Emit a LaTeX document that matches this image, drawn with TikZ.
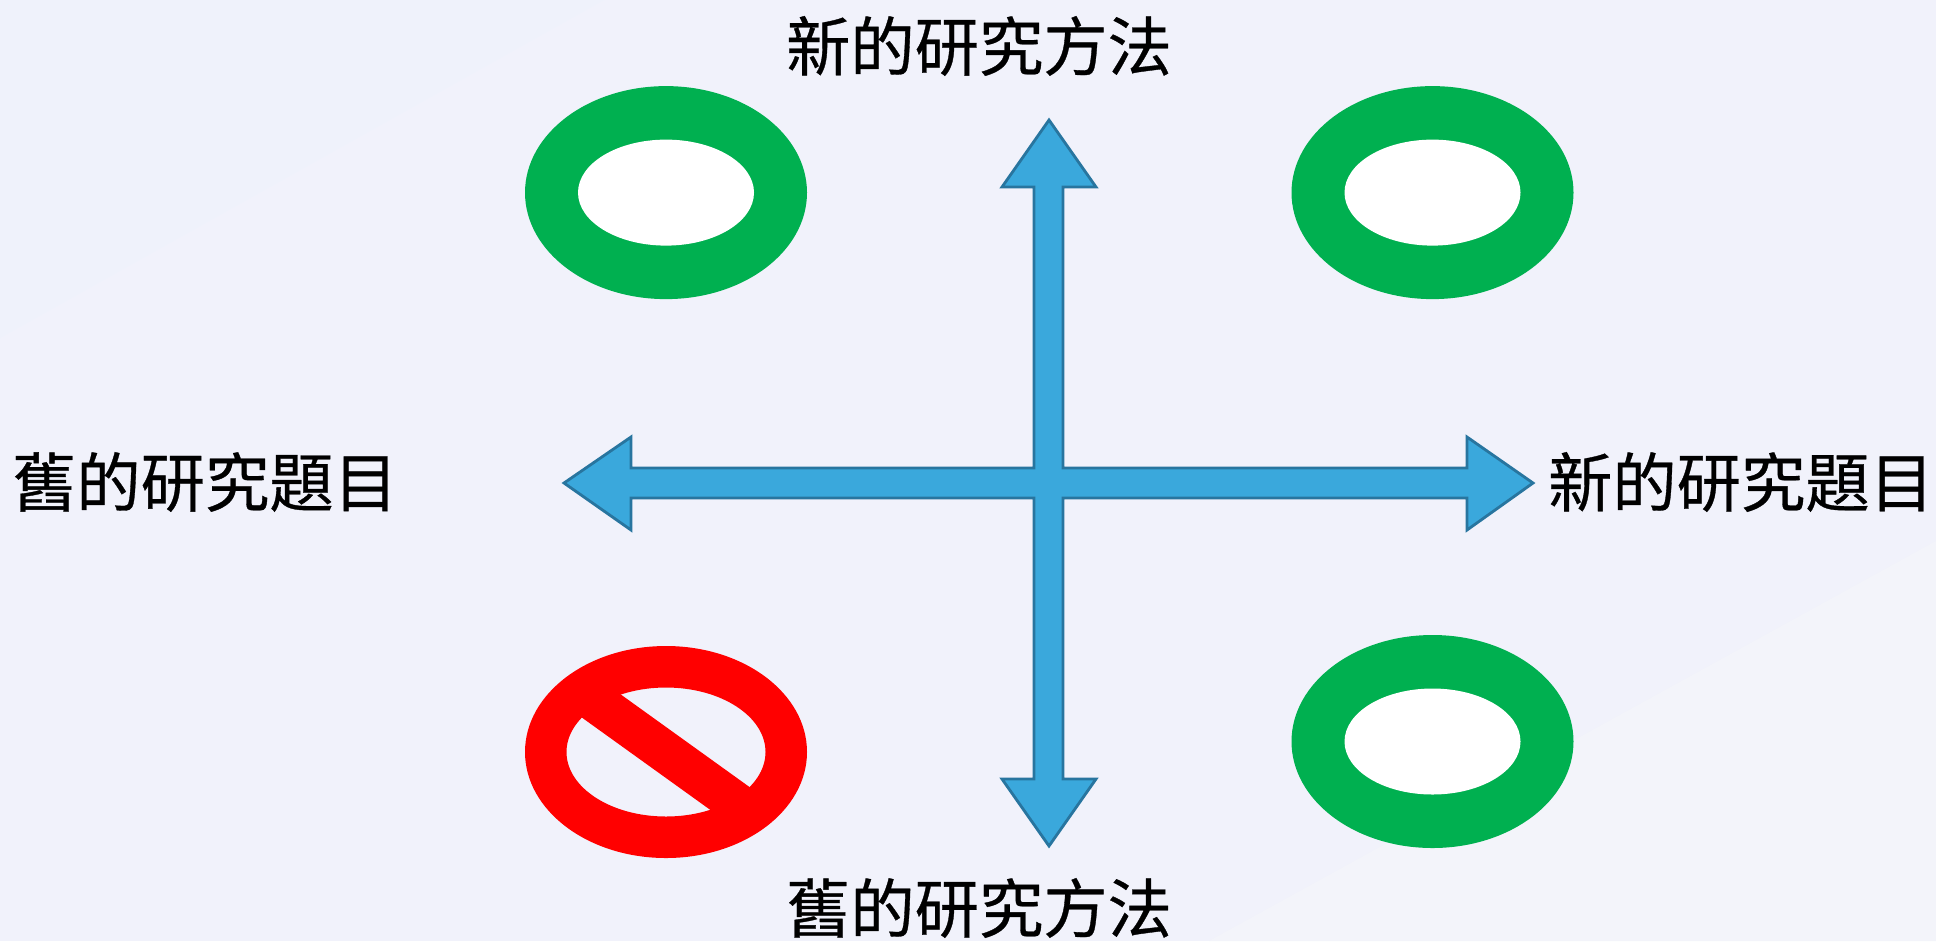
\documentclass[tikz,border=0pt]{standalone}
\usepackage{fontspec}
\newfontfamily\cjk[FakeBold=0.5]{Noto Sans CJK TC}
\definecolor{bandone}{HTML}{EFF2FB}
\definecolor{bandtwo}{HTML}{F1F2FB}
\definecolor{bandthree}{HTML}{F3F4FA}
\definecolor{ringgreen}{HTML}{00B050}
\definecolor{crossblue}{HTML}{3AA8DC}
\definecolor{crossline}{HTML}{28759F}

\begin{document}
\begin{tikzpicture}[
x=0.02cm,y=-0.02cm,
label/.style={font=\cjk\fontsize{36.6}{40}\selectfont,text=black,inner sep=0pt},
outerring/.style={fill=ringgreen,draw=none},
innerhole/.style={fill=white,draw=none},
crossarrow/.style={fill=crossblue,draw=crossline,line width=1.6pt,line join=miter}
]
    % Background
    \useasboundingbox (0,0) rectangle (1936,941);
    \fill [bandtwo] (0,0) rectangle (1936,941);
    \fill [bandone] (0,0) -- (604,0) -- (0,338) -- cycle;
    \fill [bandthree] (1936,541) -- (1936,941) -- (1209,941) -- cycle;

    % Green rings
    \foreach \cx/\cy in {666/192.6, 1432.5/192.6, 1432.5/741.5} {
        \fill [outerring] (\cx,\cy) ellipse [x radius=141, y radius=106.5];
        \fill [innerhole] (\cx,\cy) ellipse [x radius=88, y radius=53];
    }

    % Red sign
    \fill [red,even odd rule] (666,752) ellipse [x radius=141, y radius=106]
        (666,752) ellipse [x radius=99.5, y radius=64.5];
    \fill [red] (609,686) -- (762,796) -- (723,819) -- (570,709) -- cycle;

    % Cross
    \draw [crossarrow]
        (1049,120) -- (1096,187) -- (1063,187) -- (1063,468)
        -- (1467,468) -- (1467,437) -- (1533,483) -- (1467,530) -- (1467,498)
        -- (1063,498) -- (1063,779) -- (1096,779) -- (1049,846) -- (1002,779) -- (1034,779)
        -- (1034,498) -- (631,498) -- (631,530) -- (564,483) -- (631,437) -- (631,468)
        -- (1034,468) -- (1034,187) -- (1002,187) -- cycle;

    % Labels
    \node [label] (newmethod) at (979,46) {新的研究方法};
    \node [label] (oldmethod) at (979,908) {舊的研究方法};
    \node [label] (oldtopic) at (205,482) {舊的研究題目};
    \node [label] (newtopic) at (1741,482) {新的研究題目};

\end{tikzpicture}
\end{document}
